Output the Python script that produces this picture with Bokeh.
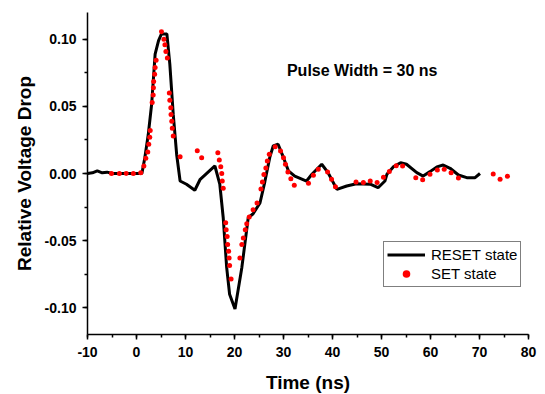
from bokeh.plotting import figure
from bokeh.models import SingleIntervalTicker, PrintfTickFormatter, Label, Range1d
from bokeh.embed import file_html
from bokeh.resources import INLINE

# RESET state (solid black line)
reset_x = [-10, -9, -8, -7, -6, -5, -4, -3, -2, -1, 0, 1.1, 1.7, 2.4, 3.1, 3.8, 4.5, 5.1,
           6.2, 6.8, 7.5, 8.2, 8.9, 10.2, 11.9, 13.0, 16.0, 17.0, 17.7, 18.4, 19.0, 20.1,
           21.5, 22.8, 23.8, 25.2, 26.2, 27.2, 27.9, 28.9, 30.0, 31.0, 32.3, 34.7, 35.8,
           37.8, 39.1, 40.9, 42.9, 44.9, 47.7, 49.3, 50.7, 51.1, 52.4, 53.9, 55.1, 57.2,
           58.5, 59.9, 61.3, 62.6, 64.0, 65.7, 67.4, 69.1, 70.1]
reset_y = [0.0, 0.0005, 0.002, 0.0005, 0.001, 0.0, 0.0, 0.0, 0.0, 0.0, 0.0, 0.0, 0.0118,
           0.029, 0.052, 0.089, 0.099, 0.104, 0.104, 0.0815, 0.044, 0.014, -0.0056, -0.008,
           -0.0125, -0.0043, 0.0056, -0.008, -0.033, -0.070, -0.090, -0.101, -0.070, -0.033,
           -0.030, -0.022, -0.006, 0.012, 0.0205, 0.0218, 0.0118, 0.002, -0.002, -0.0056,
           -0.0006, 0.0069, 0.0006, -0.0118, -0.0093, -0.0076, -0.008, -0.0106, -0.0056,
           -0.0006, 0.0049, 0.008, 0.0069, 0.0006, -0.0019, 0.0014, 0.0049, 0.0063, 0.0039,
           -0.0011, -0.0031, -0.0031, 0.0]

# SET state (red dots)
set_x = [-5.1, -3.5, -2.1, -0.65, 0.86, 1.5, 1.9, 2.3, 2.5, 2.7, 2.8, 3.2, 3.4, 3.45, 3.5,
         3.7, 3.8, 4.0, 5.1, 5.6, 5.8, 6.0, 6.3, 6.7, 6.8, 7.0, 7.05, 7.2, 7.3, 7.5, 8.9,
         12.4, 13.3, 16.6, 16.9, 17.2, 17.4, 17.5, 17.7, 18.2, 18.3, 18.5, 18.6, 18.8, 18.9,
         19.0, 19.3, 21.1, 21.5, 21.8, 22.2, 22.5, 23.0, 23.8, 24.6, 25.4, 25.7, 26.0, 26.4,
         26.7, 27.1, 28.3, 29.4, 30.0, 30.4, 30.9, 31.5, 32.2, 35.1, 36.1, 37.1, 39.0, 39.8,
         40.6, 44.8, 46.3, 47.7, 49.1, 50.4, 51.6, 53.0, 54.3, 57.0, 58.4, 59.9, 61.4, 62.8,
         64.2, 65.7, 72.8, 74.2, 75.7]
set_y = [0.0, 0.0, 0.0, 0.0, 0.0006, 0.0056, 0.0113, 0.016, 0.0218, 0.027, 0.032, 0.053,
         0.0586, 0.064, 0.0685, 0.074, 0.079, 0.0845, 0.1056, 0.100, 0.0959, 0.091, 0.086,
         0.060, 0.0546, 0.049, 0.044, 0.039, 0.0337, 0.028, 0.0125, 0.017, 0.0118, 0.0155,
         0.010, 0.005, 0.0, -0.0056, -0.011, -0.0367, -0.042, -0.047, -0.053, -0.058, -0.063,
         -0.0685, -0.0787, -0.063, -0.053, -0.048, -0.042, -0.0375, -0.0325, -0.027, -0.022,
         -0.0115, -0.0063, -0.0008, 0.0041, 0.0093, 0.0143, 0.020, 0.0168, 0.0118, 0.0069,
         0.0011, -0.0039, -0.0088, -0.0073, -0.0013, 0.0031, 0.0011, -0.0043, -0.0098,
         -0.0063, -0.0068, -0.0056, -0.0068, -0.0028, 0.0014, 0.0058, 0.0056, -0.0031,
         -0.0046, -0.0006, 0.0026, 0.0031, 0.0006, -0.0034, -0.0004, -0.0043, -0.0021]

x_range = (-10, 80)
y_range = (-0.12, 0.12)
annotation_text = "Pulse Width = 30 ns"

FONT = "Liberation Sans"

p = figure(output_backend="svg", toolbar_location=None,
           frame_width=441, frame_height=322,
           min_border_left=87, min_border_right=9, min_border_top=12, min_border_bottom=54,
           x_range=Range1d(*x_range), y_range=Range1d(*y_range),
           x_axis_label="Time (ns)", y_axis_label="Relative Voltage Drop")

p.outline_line_color = None
p.grid.visible = False
p.background_fill_color = "white"
p.border_fill_color = "white"

p.xaxis.ticker = SingleIntervalTicker(interval=10, num_minor_ticks=2)
p.yaxis.ticker = SingleIntervalTicker(interval=0.05, num_minor_ticks=2)
p.xaxis.formatter = PrintfTickFormatter(format="%d")
p.yaxis.formatter = PrintfTickFormatter(format="%.2f")

for ax in (p.xaxis, p.yaxis):
    ax.axis_line_color = "black"
    ax.axis_line_width = 1.5
    ax.major_tick_line_color = "black"
    ax.minor_tick_line_color = "black"
    ax.major_tick_line_width = 1.5
    ax.minor_tick_line_width = 1.5
    ax.major_tick_in = 0
    ax.major_tick_out = 5
    ax.minor_tick_in = 0
    ax.minor_tick_out = 3
    ax.major_label_text_font = FONT
    ax.major_label_text_font_style = "bold"
    ax.major_label_text_font_size = "14px"
    ax.major_label_text_color = "black"
    ax.axis_label_text_font = FONT
    ax.axis_label_text_font_style = "bold"
    ax.axis_label_text_font_size = "19px"
    ax.axis_label_text_color = "black"

p.xaxis.major_label_standoff = 7
p.xaxis.axis_label_standoff = 12
p.yaxis.major_label_standoff = 6
p.yaxis.axis_label_standoff = 7

p.line(reset_x, reset_y, line_color="black", line_width=3, legend_label="RESET state")
p.scatter(set_x, set_y, marker="circle", size=5, fill_color="red", line_color=None,
          legend_label="SET state")

p.add_layout(Label(x=30.7, y=0.0765, text=annotation_text, text_font=FONT,
                   text_font_style="bold", text_font_size="16px", text_baseline="middle",
                   text_align="left", text_color="black"))

lg = p.legend[0]
lg.location = (296, 47)
lg.border_line_color = "black"
lg.border_line_width = 1
lg.background_fill_color = "white"
lg.background_fill_alpha = 1
lg.label_text_font = FONT
lg.label_text_font_size = "15px"
lg.label_text_color = "black"
lg.glyph_width = 38
lg.glyph_height = 19
lg.label_height = 19
lg.label_standoff = 6
lg.spacing = 0
lg.padding = 3
lg.margin = 0

open("out.html", "w").write(file_html(p, INLINE))
